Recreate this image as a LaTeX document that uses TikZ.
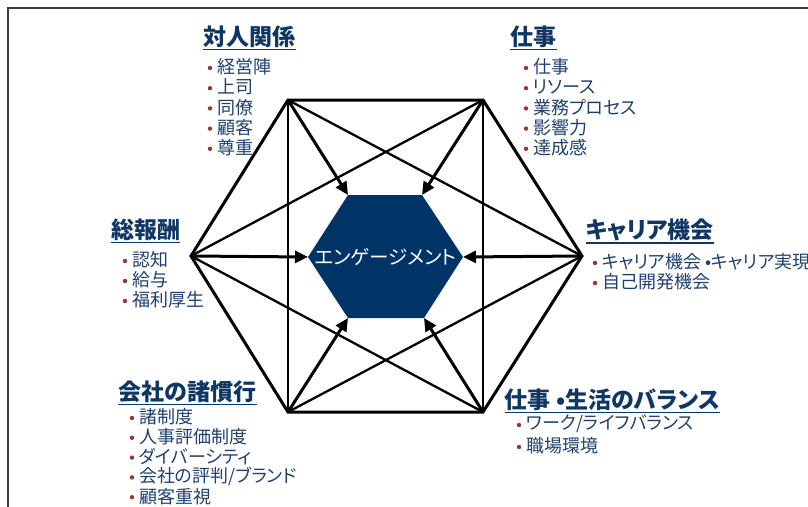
\documentclass[tikz,border=0pt]{standalone}
\usepackage{fontspec}
\setmainfont{Noto Sans CJK JP}[RawFeature=+palt]
\usetikzlibrary{arrows.meta}
\definecolor{navy}{RGB}{0,51,102}
\definecolor{headc}{RGB}{16,55,100}
\definecolor{itemc}{RGB}{31,64,110}
\definecolor{bulc}{RGB}{150,55,50}
\definecolor{framec}{RGB}{60,60,60}
\tikzset{
 heading/.style={font=\fontsize{23}{25}\selectfont\bfseries, text=headc, inner sep=0pt, anchor=center},
 item/.style={font=\fontsize{18}{20}\selectfont, text=itemc, inner sep=0pt, anchor=west},
 bulletdot/.style={fill=bulc},
 hexedge/.style={line width=3pt, line join=miter},
 chord/.style={line width=2.3pt},
 arr/.style={line width=3pt, -{Triangle[length=13pt,width=12pt]}},
 uline/.style={headc, line width=1.5pt},
 engtext/.style={font=\fontsize{19.5}{21}\selectfont, text=white, inner sep=0pt}
}
\newcommand\headnode[3]{%
 \node[heading] (#1) at (#2) {#3};
 \draw[uline] ([yshift=-1.5pt]#1.south west) -- ([yshift=-1.5pt]#1.south east);}
\newcommand\itemlist[5]{%
 \foreach \t [count=\i] in {#5} {
   \fill[bulletdot] ({#2-7},{#3+1+#4*(\i-1)}) circle (2.2pt);
   \node[item] (#1-\i) at (#2,{#3+#4*(\i-1)}) {\t};
 }}
\begin{document}
\begin{tikzpicture}[x=1pt,y=-1pt]
\useasboundingbox (0,0) rectangle (808,506);
\draw[framec, line width=1.5pt] (8,520) -- (8,8) -- (820,8);

% outer vertices
\coordinate (O1) at (288,100);
\coordinate (O2) at (483,100);
\coordinate (O3) at (582,256);
\coordinate (O4) at (483,412);
\coordinate (O5) at (288,412);
\coordinate (O6) at (191,256);
% inner vertices
\coordinate (I1) at (348,195);
\coordinate (I2) at (422,195);
\coordinate (I3) at (463,257);
\coordinate (I4) at (424,318);
\coordinate (I5) at (348,318);
\coordinate (I6) at (308,257);

% chords
\draw[chord] (O1) -- (O5);
\draw[chord] (O2) -- (O4);
\draw[chord] (O1) -- (O3);
\draw[chord] (O3) -- (O5);
\draw[chord] (O2) -- (O6);
\draw[chord] (O6) -- (O4);
% outer hexagon
\draw[hexedge] (O1) -- (O2) -- (O3) -- (O4) -- (O5) -- (O6) -- cycle;
% inner hexagon
\fill[navy] (I1) -- (I2) -- (I3) -- (I4) -- (I5) -- (I6) -- cycle;
\node[engtext] (eng) at (385.5,257) {エンゲージメント};
% arrows
\foreach \k in {1,...,6} \draw[arr] (O\k) -- (I\k);

% headings
\headnode{rel}{249.5,37}{対人関係}
\headnode{job}{533.5,37}{仕事}
\headnode{pay}{145.5,230}{総報酬}
\headnode{car}{650,230}{キャリア機会}
\headnode{prac}{187.5,392}{会社の諸慣行}
\headnode{wlb}{612.5,400}{仕事 •生活のバランス}

% item lists
\itemlist{reli}{217}{67}{20.2}{経営陣,上司,同僚,顧客,尊重}
\itemlist{jobi}{533}{67}{20.2}{仕事,リソース,業務プロセス,影響力,達成感}
\itemlist{payi}{132}{260}{20}{認知,給与,福利厚生}
\itemlist{cari}{602}{262}{20}{{キャリア機会 •キャリア実現},自己開発機会}
\itemlist{praci}{139}{417}{19.8}{諸制度,人事評価制度,ダイバーシティ,会社の評判/ブランド,顧客重視}
\itemlist{wlbi}{526}{424}{22}{ワーク/ライフバランス,職場環境}
\end{tikzpicture}
\end{document}
